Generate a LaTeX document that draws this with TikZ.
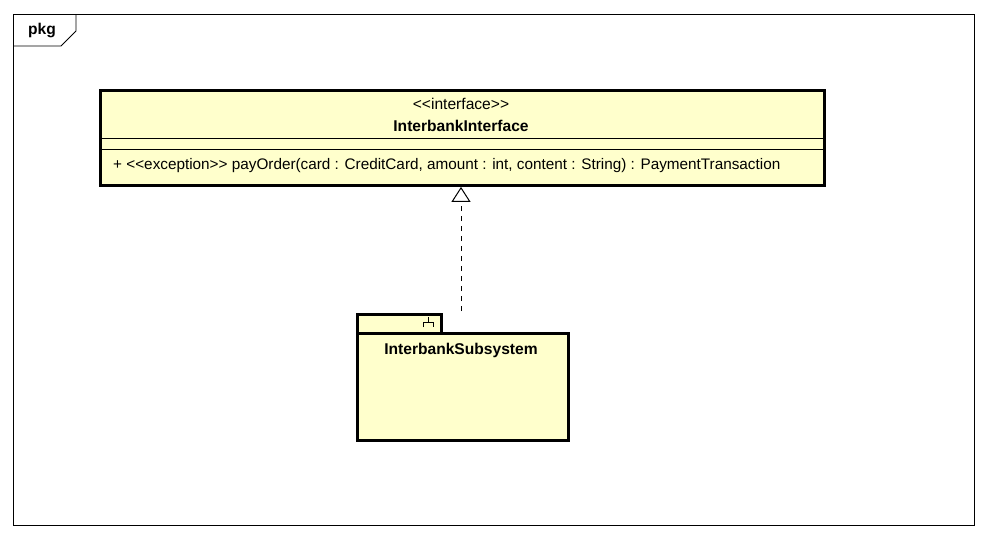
\documentclass[tikz,border=0pt]{standalone}
\usepackage{fontspec}
\setmainfont{Liberation Sans}[Ligatures=NoCommon]
\usetikzlibrary{arrows.meta}
\definecolor{umlfill}{RGB}{255,255,204}
\tikzset{
  frameline/.style={draw=black, line width=0.9pt},
  umlbox/.style={draw=black, line width=2.6pt, fill=umlfill, rectangle, inner sep=0pt},
  sepline/.style={draw=black, line width=0.9pt},
  txt/.style={inner sep=0pt, font=\fontsize{15.6}{18}\selectfont},
  optxt/.style={inner sep=0pt, font=\fontsize{15.3}{18}\selectfont},
  btxt/.style={inner sep=0pt, font=\fontsize{15.6}{18}\selectfont\bfseries},
  realize/.style={draw=black, line width=1pt, dash pattern=on 5pt off 5pt, -{Triangle[open, length=15pt, width=19pt, line width=1pt]}},
}
\newcommand{\ltlt}{{<}{<}}
\newcommand{\gtgt}{{>}{>}}
\begin{document}
\begin{tikzpicture}[x=1pt, y=-1pt]
\useasboundingbox (0,0) rectangle (988,538);
% package frame
\draw[frameline] (13,14) rectangle (974,525);
\draw[frameline] (13,46) -- (61,46) -- (76,31) -- (76,14);
\node[btxt, anchor=center] (pkg) at (42,31) {pkg};
% interface class
\node[umlbox, minimum width=724pt, minimum height=95pt, anchor=north west] (iface) at (99.3,89.3) {};
\draw[sepline] (iface.west |- 0,138) -- (iface.east |- 0,138);
\draw[sepline] (iface.west |- 0,149) -- (iface.east |- 0,149);
\node[txt] (stereo) at (461,104) {\ltlt interface\gtgt};
\node[btxt] (iname) at (461,126) {InterbankInterface};
\node[optxt, anchor=west] (op) at (113,166) {+ \ltlt exception\gtgt\ payOrder(card : CreditCard, amount : int, content : String) : PaymentTransaction};
% subsystem package
\node[umlbox, minimum width=84pt, minimum height=20pt, anchor=north west] (subtab) at (356.3,313.3) {};
\node[umlbox, minimum width=211pt, minimum height=107pt, anchor=north west] (subsys) at (356.3,332.3) {};
\node[btxt] (subname) at (461,350) {InterbankSubsystem};
\draw[line width=1pt] (428,317) -- (428,322) (423,327) -- (423,322) -- (433,322) -- (433,327);
% realization
\coordinate (src) at (461,311);
\draw[realize] (src) -- (iface.south -| src);
\end{tikzpicture}
\end{document}
